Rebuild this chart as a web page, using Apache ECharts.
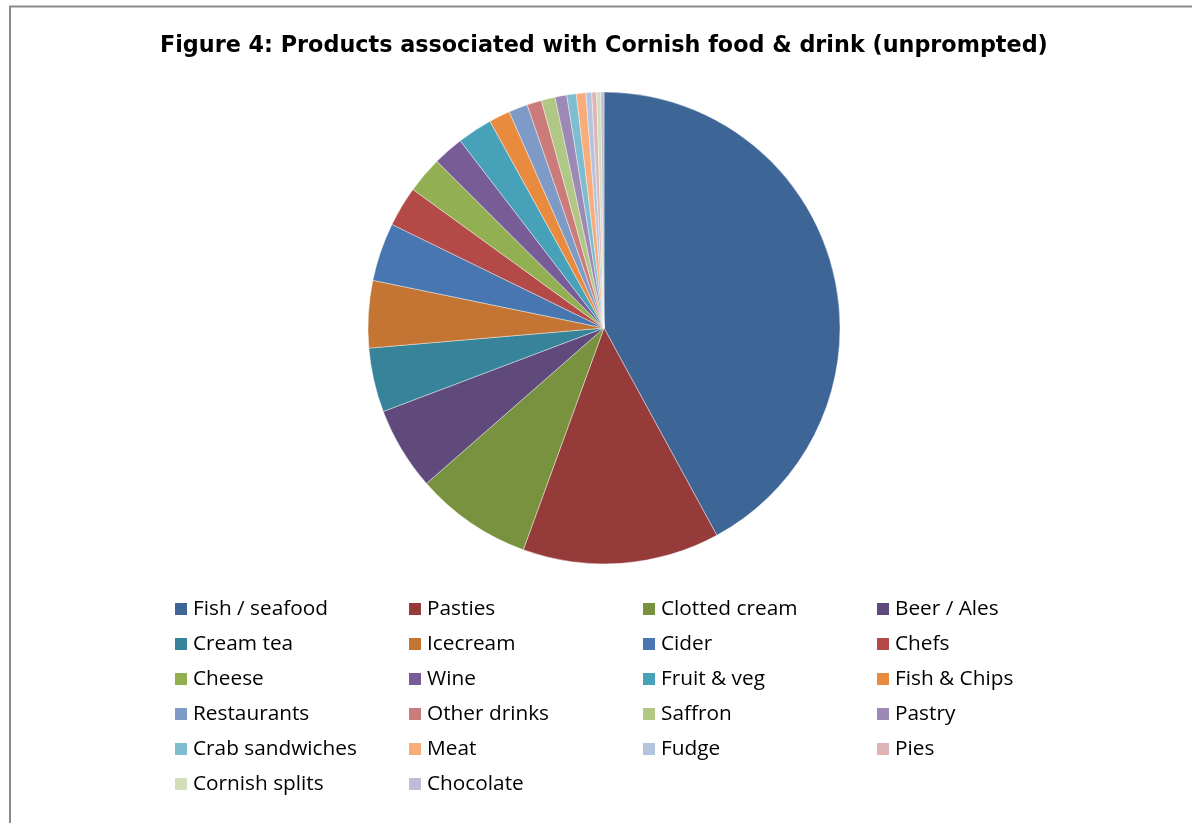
<!DOCTYPE html>
<html>
<head>
<meta charset="utf-8">
<title>Products associated with Cornish food &amp; drink</title>
<script src="https://cdn.jsdelivr.net/npm/echarts@6/dist/echarts.min.js"></script>
<style>
  html, body { margin: 0; padding: 0; background: #fff; }
  #chart { width: 1192px; height: 823px; }
</style>
</head>
<body>
<div id="chart"></div>
<script>
// Share of unprompted mentions (%), in survey order
const categories = [
  'Fish / seafood', 'Pasties', 'Clotted cream', 'Beer / Ales',
  'Cream tea', 'Icecream', 'Cider', 'Chefs',
  'Cheese', 'Wine', 'Fruit & veg', 'Fish & Chips',
  'Restaurants', 'Other drinks', 'Saffron', 'Pastry',
  'Crab sandwiches', 'Meat', 'Fudge', 'Pies',
  'Cornish splits', 'Chocolate'
];
const shares = [
  42.1, 13.5, 8.0, 5.7,
  4.4, 4.6, 4.0, 2.75,
  2.5, 2.1, 2.4, 1.45,
  1.3, 1.0, 0.95, 0.8,
  0.65, 0.65, 0.4, 0.33,
  0.28, 0.22
];
const sliceColors = [
  '#3d6697', '#953c3a', '#79923f', '#604a7b',
  '#37849a', '#c47533', '#4776b0', '#b44a47',
  '#92af52', '#775c98', '#46a1b9', '#e88b3e',
  '#7e9bc8', '#cb7c7a', '#b0c785', '#9d89b5',
  '#7ebcd0', '#f8ac79', '#b4c3de', '#deb5b4',
  '#d0deba', '#c4bad3'
];
const titleText = 'Figure 4: Products associated with Cornish food & drink (unprompted)';

const chart = echarts.init(document.getElementById('chart'), null, { renderer: 'canvas' });

const pieData = categories.map((name, i) => ({
  name,
  value: shares[i],
  itemStyle: { color: sliceColors[i] }
}));

// Legend laid out as four fixed columns, filled row by row
const columnLefts = [173, 407, 641, 875];
const legends = columnLefts.map((left, col) => ({
  orient: 'vertical',
  left: left,
  top: 598,
  padding: 0,
  itemWidth: 14,
  itemHeight: 14,
  itemGap: 13,
  icon: 'rect',
  selectedMode: false,
  data: categories.filter((_, i) => i % 4 === col),
  textStyle: {
    fontFamily: 'Open Sans',
    fontSize: 20.8,
    color: '#000',
    lineHeight: 22
  }
}));

chart.setOption({
  backgroundColor: '#fff',
  animation: false,
  title: {
    text: titleText,
    left: 160,
    top: 35,
    padding: 0,
    textStyle: {
      fontFamily: 'DejaVu Sans',
      fontWeight: 'bold',
      fontSize: 22.3,
      color: '#000'
    }
  },
  graphic: [{
    type: 'rect',
    shape: { x: 10, y: 6.5, width: 1400, height: 1000 },
    style: { fill: 'none', stroke: '#8a8a8a', lineWidth: 2 },
    silent: true
  }],
  legend: legends,
  series: [{
    type: 'pie',
    center: [604, 328],
    radius: 236,
    startAngle: 90,
    clockwise: true,
    label: { show: false },
    labelLine: { show: false },
    emphasis: { disabled: true },
    itemStyle: { borderColor: '#ffffff', borderWidth: 0.4 },
    data: pieData
  }]
});
</script>
</body>
</html>
